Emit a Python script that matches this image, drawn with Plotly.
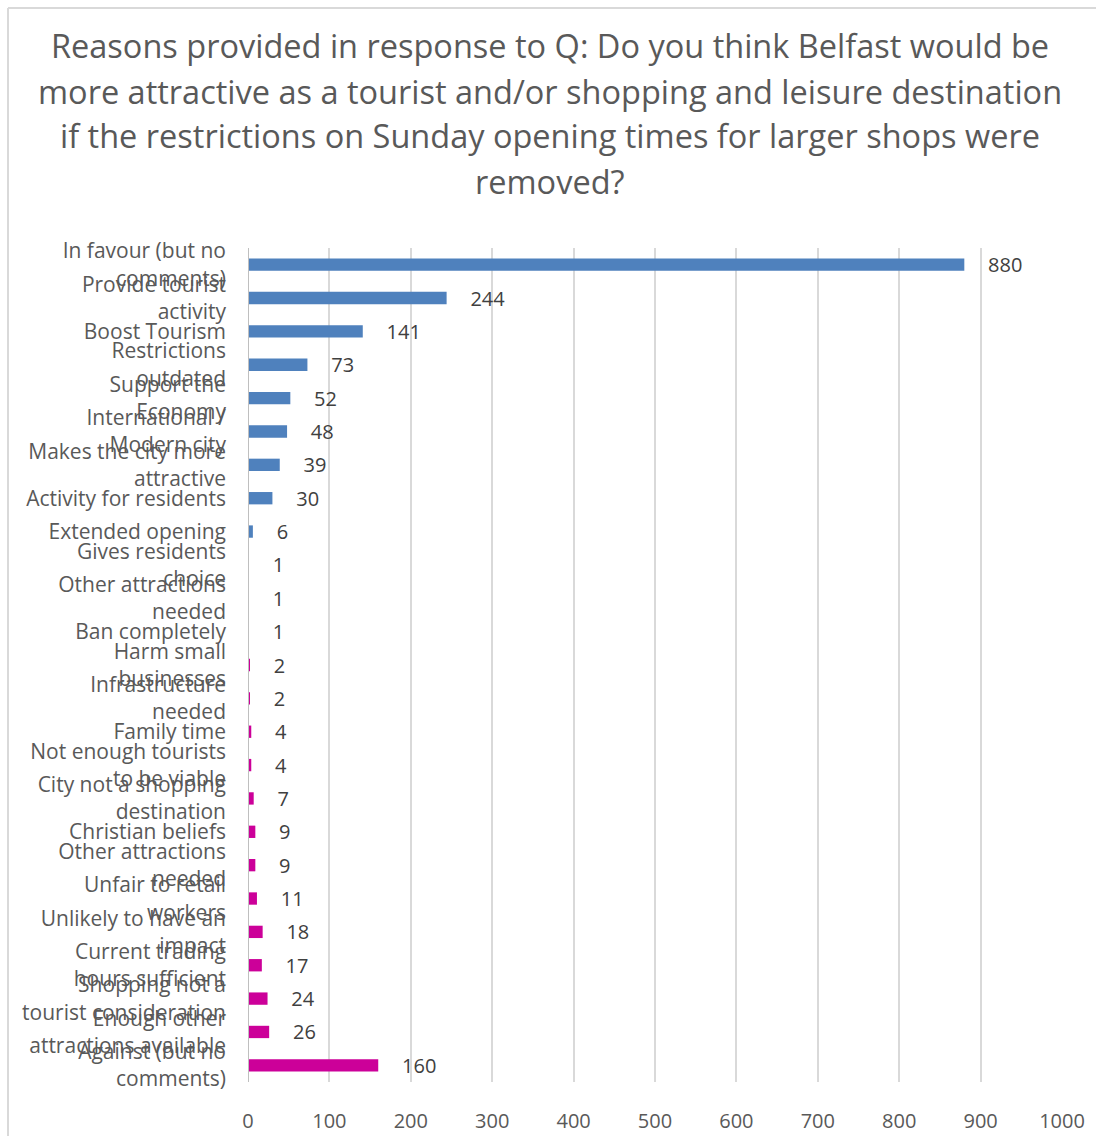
import plotly.graph_objects as go

title_lines = [
    "Reasons provided in response to Q: Do you think Belfast would be",
    "more attractive as a tourist and/or shopping and leisure destination",
    "if the restrictions on Sunday opening times for larger shops were",
    "removed?",
]

categories = [
    "In favour (but no<br>comments)",
    "Provide tourist<br>activity",
    "Boost Tourism",
    "Restrictions<br>outdated",
    "Support the<br>Economy",
    "International /<br>Modern city",
    "Makes the city more<br>attractive",
    "Activity for residents",
    "Extended opening",
    "Gives residents<br>choice",
    "Other attractions<br>needed",
    "Ban completely",
    "Harm small<br>businesses",
    "Infrastructure<br>needed",
    "Family time",
    "Not enough tourists<br>to be viable",
    "City not a shopping<br>destination",
    "Christian beliefs",
    "Other attractions<br>needed",
    "Unfair to retail<br>workers",
    "Unlikely to have an<br>impact",
    "Current trading<br>hours sufficient",
    "Shopping not a<br>tourist consideration",
    "Enough other<br>attractions available",
    "Against (but no<br>comments)",
]
values = [880, 244, 141, 73, 52, 48, 39, 30, 6, 1, 1, 1, 2, 2, 4, 4, 7, 9, 9, 11, 18, 17, 24, 26, 160]
groups = ["for"] * 11 + ["against"] * 14

BLUE = "#4F81BD"
MAGENTA = "#CC0099"
colors = [BLUE if g == "for" else MAGENTA for g in groups]
positions = list(range(len(categories)))

W, H = 1096, 1136
ML, MR, MT, MB = 248, 34, 248, 54
FONT = "Open Sans"

fig = go.Figure()
fig.add_trace(go.Bar(
    x=values,
    y=positions,
    orientation="h",
    marker=dict(color=colors, line=dict(width=0)),
    text=values,
    texttemplate="\u00a0\u00a0\u00a0\u00a0%{x}",
    textposition="outside",
    constraintext="none",
    textfont=dict(family=FONT, size=20, color="#404040"),
    cliponaxis=False,
    hoverinfo="x+y",
))

pw = W - ML - MR
ph = H - MT - MB
def px_x(p):
    return (p - ML) / pw
def px_y(p):
    return 1 - (p - MT) / ph

title_y = [46, 91, 136, 181]
annotations = [
    dict(text=t, xref="paper", yref="paper", x=px_x(550), y=px_y(yy),
         xanchor="center", yanchor="middle", showarrow=False,
         font=dict(family=FONT, size=32.5, color="#595959"))
    for t, yy in zip(title_lines, title_y)
]

fig.update_layout(
    width=W,
    height=H,
    margin=dict(l=ML, r=MR, t=MT, b=MB, autoexpand=False),
    paper_bgcolor="white",
    plot_bgcolor="white",
    showlegend=False,
    bargap=0.63,
    font=dict(family=FONT, color="#595959"),
    annotations=annotations,
    xaxis=dict(
        range=[0, 1000],
        tickvals=list(range(0, 1001, 100)),
        showgrid=True,
        gridcolor="#D9D9D9",
        gridwidth=2,
        zeroline=False,
        showline=False,
        ticks="",
        automargin=False,
        ticklabelstandoff=25,
        tickfont=dict(family=FONT, size=20, color="#595959"),
    ),
    yaxis=dict(
        tickvals=positions,
        ticktext=categories,
        range=[len(categories) - 0.5, -0.5],
        showgrid=False,
        zeroline=False,
        showline=False,
        ticks="",
        automargin=False,
        ticklabelstandoff=21,
        tickfont=dict(family=FONT, size=21, color="#595959"),
    ),
    shapes=[
        dict(type="line", xref="x", yref="paper", x0=0, x1=0, y0=0, y1=1,
             line=dict(color="#BFBFBF", width=2)),
        dict(type="line", xref="paper", yref="paper",
             x0=px_x(8), x1=px_x(W + 10), y0=px_y(8), y1=px_y(8),
             line=dict(color="#D9D9D9", width=2)),
        dict(type="line", xref="paper", yref="paper",
             x0=px_x(8), x1=px_x(8), y0=px_y(8), y1=px_y(H + 10),
             line=dict(color="#D9D9D9", width=2)),
    ],
)

fig.write_html("out.html")
